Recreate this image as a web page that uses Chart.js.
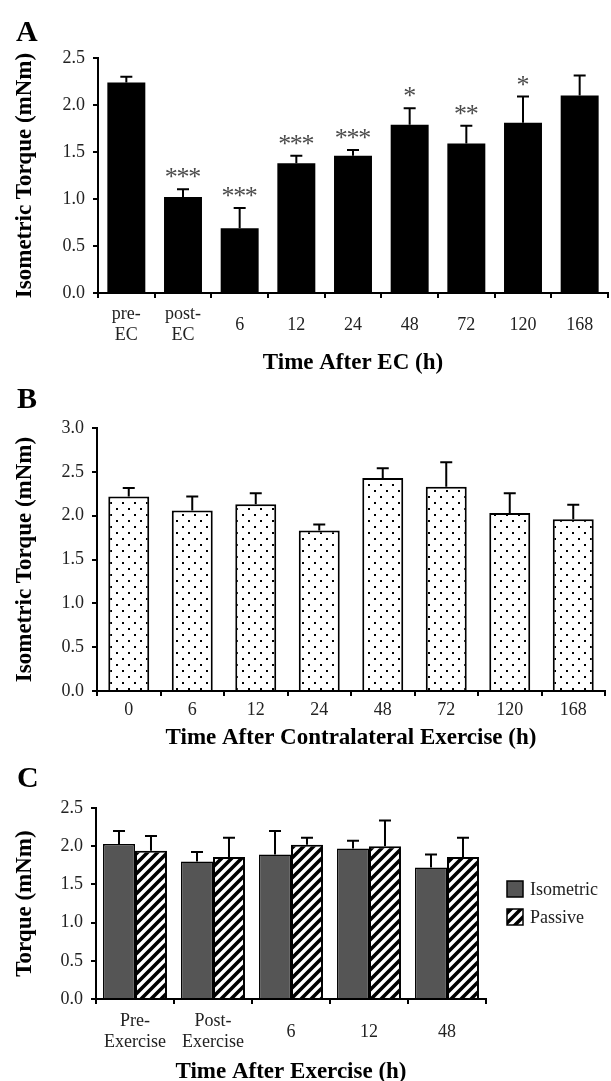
<!DOCTYPE html>
<html><head><meta charset="utf-8">
<script src="https://cdn.jsdelivr.net/npm/chart.js@4.4.1/dist/chart.umd.min.js"></script>
<style>
html,body{margin:0;padding:0;background:#fff;}
#wrap{position:relative;width:611px;height:1081px;overflow:hidden;background:#fff;}
.panel{position:absolute;left:0;width:611px;}
.panel canvas{display:block;}
.lbl{position:absolute;font:bold 30px "Liberation Serif",serif;color:#000;line-height:30px;}
</style></head><body>
<div id="wrap">
  <div class="panel" style="top:0;height:380px"><canvas id="cA" width="611" height="380"></canvas></div>
  <div class="panel" style="top:380px;height:370px"><canvas id="cB" width="611" height="370"></canvas></div>
  <div class="panel" style="top:750px;height:331px"><canvas id="cC" width="611" height="331"></canvas></div>
  <div class="lbl" style="left:16px;top:16px">A</div>
  <div class="lbl" style="left:17px;top:383px">B</div>
  <div class="lbl" style="left:17px;top:762px">C</div>
</div>
<script>
// ---------- Data ----------
const catsA = [['pre-','EC'],['post-','EC'],'6','12','24','48','72','120','168'];
const meanA = [2.24,1.02,0.69,1.38,1.46,1.79,1.59,1.81,2.10];
const semA  = [0.06,0.085,0.215,0.08,0.06,0.175,0.19,0.28,0.215];
const sigA  = ['','***','***','***','***','*','**','*',''];

const catsB = ['0','6','12','24','48','72','120','168'];
const meanB = [2.22,2.06,2.13,1.83,2.43,2.33,2.03,1.96];
const semB  = [0.095,0.16,0.125,0.07,0.11,0.28,0.225,0.165];

const catsC = [['Pre-','Exercise'],['Post-','Exercise'],'6','12','48'];
const isoC  = [2.03,1.80,1.89,1.97,1.72];
const isoSemC = [0.17,0.125,0.31,0.10,0.17];
const pasC  = [1.94,1.86,2.02,2.00,1.86];
const pasSemC = [0.195,0.25,0.09,0.335,0.25];

const titleA = 'Time After EC (h)';
const titleB = 'Time After Contralateral Exercise (h)';
const titleC = 'Time After Exercise (h)';
const yTitleAB = 'Isometric Torque (mNm)';
const yTitleC = 'Torque (mNm)';

// ---------- Styling helpers ----------
const SERIF = '"Liberation Serif","Times New Roman",serif';
Chart.defaults.font.family = SERIF;
Chart.defaults.color = '#222';

function dotPattern(ctx){
  const c = document.createElement('canvas'); c.width = 12; c.height = 12;
  const g = c.getContext('2d');
  g.fillStyle = '#fff'; g.fillRect(0,0,12,12);
  g.fillStyle = '#000'; g.fillRect(2,2,2,2); g.fillRect(8,8,2,2);
  return ctx.createPattern(c,'repeat');
}
function stripePattern(ctx){
  const s = 10;
  const c = document.createElement('canvas'); c.width = s; c.height = s;
  const g = c.getContext('2d');
  g.fillStyle = '#fff'; g.fillRect(0,0,s,s);
  g.strokeStyle = '#000'; g.lineWidth = 3.6; g.lineCap = 'square';
  g.beginPath();
  g.moveTo(-s/2, s/2); g.lineTo(s/2, -s/2);
  g.moveTo(0, s); g.lineTo(s, 0);
  g.moveTo(s/2, s*1.5); g.lineTo(s*1.5, s/2);
  g.stroke();
  return ctx.createPattern(c,'repeat');
}

const errorBars = {
  id:'errorBars',
  afterDatasetsDraw(chart){
    const ctx = chart.ctx, y = chart.scales.y;
    chart.data.datasets.forEach((ds,di)=>{
      if(!ds.errors) return;
      const meta = chart.getDatasetMeta(di);
      meta.data.forEach((bar,i)=>{
        const top = y.getPixelForValue(ds.data[i] + ds.errors[i]);
        ctx.save();
        ctx.strokeStyle = '#000'; ctx.lineWidth = 2;
        ctx.beginPath();
        ctx.moveTo(bar.x, bar.y); ctx.lineTo(bar.x, top);
        ctx.moveTo(bar.x - 6, top); ctx.lineTo(bar.x + 6, top);
        ctx.stroke();
        ctx.restore();
      });
    });
  }
};

const stars = {
  id:'stars',
  afterDatasetsDraw(chart, args, opts){
    if(!opts || !opts.labels) return;
    const ctx = chart.ctx, y = chart.scales.y;
    const ds = chart.data.datasets[0], meta = chart.getDatasetMeta(0);
    ctx.save();
    ctx.font = '26px ' + SERIF; ctx.fillStyle = '#4a4a4a';
    ctx.textAlign = 'center'; ctx.textBaseline = 'alphabetic';
    meta.data.forEach((bar,i)=>{
      const s = opts.labels[i]; if(!s) return;
      const top = y.getPixelForValue(ds.data[i] + ds.errors[i]);
      for(let k=0;k<s.length;k++){
        ctx.fillText('*', bar.x + (k - (s.length-1)/2) * 11.7, top - 4);
      }
    });
    ctx.restore();
  }
};

const legendC = {
  id:'legendC',
  afterDraw(chart, args, opts){
    if(!opts || !opts.show) return;
    const ctx = chart.ctx;
    ctx.save();
    chart.data.datasets.forEach((ds,i)=>{
      const yc = opts.y + i*opts.gap;
      ctx.fillStyle = ds.backgroundColor;
      ctx.fillRect(opts.x, yc - 8, 16, 16);
      ctx.strokeStyle = '#000'; ctx.lineWidth = 1.5;
      ctx.strokeRect(opts.x, yc - 8, 16, 16);
      ctx.fillStyle = '#222'; ctx.font = '18px ' + SERIF;
      ctx.textAlign = 'left'; ctx.textBaseline = 'middle';
      ctx.fillText(ds.label, opts.x + 23, yc + 1);
    });
    ctx.restore();
  }
};

function axisCommon(){
  return {
    grid:{display:true, drawOnChartArea:false, drawTicks:true, tickLength:5, tickWidth:2, tickColor:'#000', color:'#000', lineWidth:2},
    border:{display:true, width:2, color:'#000'}
  };
}

function makeOptions(p){
  const xa = axisCommon(), ya = axisCommon();
  return {
    responsive:false, animation:false,
    layout:{padding:{left:0, right:p.right, top:p.top, bottom:0}},
    plugins:{legend:{display:false}, tooltip:{enabled:false},
      stars:{labels:p.stars||null},
      legendC:p.legend||{show:false}},
    scales:{
      x:Object.assign(xa, {
        offset:true,
        grid:Object.assign(xa.grid,{offset:true}),
        ticks:{font:{size:18}, color:'#222', padding:p.xPad, maxRotation:0, autoSkip:false, crossAlign:'center'},
        title:{display:true, text:p.xTitle, color:'#000', font:{size:23, weight:'bold', lineHeight:p.xLH||1.2}, padding:{top:0,bottom:p.xTitlePad}},
        afterFit(s){ s.height = p.xHeight; }
      }),
      y:Object.assign(ya, {
        min:0, max:p.ymax,
        ticks:{stepSize:0.5, font:{size:18}, color:'#222', padding:8, callback:v=>Number(v).toFixed(1)},
        title:{display:true, text:p.yTitle, color:'#000', font:{size:23, weight:'bold', lineHeight:1.2}, padding:{top:p.yTitlePad,bottom:0}},
        afterFit(s){ s.width = p.yWidth; }
      })
    }
  };
}

// ---------- Chart A ----------
new Chart(document.getElementById('cA'), {
  type:'bar',
  data:{labels:catsA, datasets:[{label:'A', data:meanA, errors:semA,
    backgroundColor:'#000', borderColor:'#000', borderWidth:0,
    categoryPercentage:1, barPercentage:0.67}]},
  options:makeOptions({top:58, right:3, xHeight:87, yWidth:98, ymax:2.5,
    xTitle:titleA, yTitle:yTitleAB, xPad:16, xTitlePad:3, yTitlePad:11, stars:sigA}),
  plugins:[errorBars, stars]
});

// ---------- Chart B ----------
const ctxB = document.getElementById('cB').getContext('2d');
new Chart(ctxB, {
  type:'bar',
  data:{labels:catsB, datasets:[{label:'B', data:meanB, errors:semB,
    backgroundColor:dotPattern(ctxB), borderColor:'#000', borderWidth:2,
    categoryPercentage:1, barPercentage:0.645}]},
  options:makeOptions({top:48, right:6, xHeight:59, yWidth:97, ymax:3.0,
    xTitle:titleB, yTitle:yTitleAB, xPad:14, xTitlePad:0, xLH:1.0, yTitlePad:11}),
  plugins:[errorBars]
});

// ---------- Chart C ----------
const ctxC = document.getElementById('cC').getContext('2d');
new Chart(ctxC, {
  type:'bar',
  data:{labels:catsC, datasets:[
    {label:'Isometric', data:isoC, errors:isoSemC, backgroundColor:'#555555', borderColor:'#000', borderWidth:1.5,
      categoryPercentage:0.82, barPercentage:1},
    {label:'Passive', data:pasC, errors:pasSemC, backgroundColor:stripePattern(ctxC), borderColor:'#000', borderWidth:2,
      categoryPercentage:0.82, barPercentage:1}
  ]},
  options:makeOptions({top:58, right:125, xHeight:82, yWidth:96, ymax:2.5,
    xTitle:titleC, yTitle:yTitleC, xPad:17, xTitlePad:0, xLH:0.8, yTitlePad:11,
    legend:{show:true, x:507, y:139, gap:28}}),
  plugins:[errorBars, legendC]
});
</script>
</body></html>
